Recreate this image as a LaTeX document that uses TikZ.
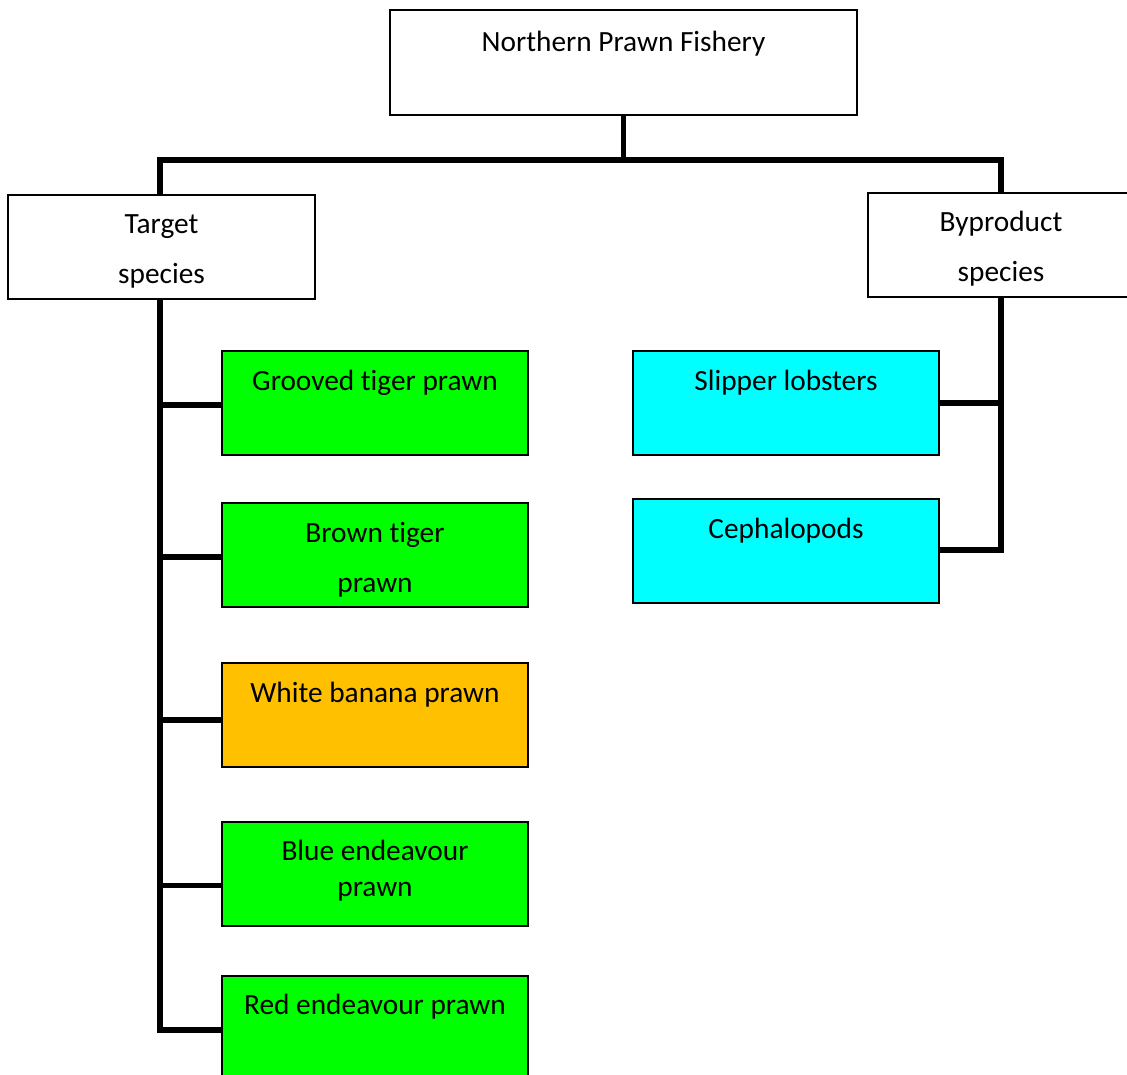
\documentclass[tikz,border=0pt]{standalone}
\usepackage{fontspec}
\setmainfont[RawFeature={-liga;-clig;-calt;-dlig}]{Carlito}
\usetikzlibrary{calc}
\definecolor{prawngreen}{HTML}{00FF00}
\definecolor{bananaorange}{HTML}{FFC000}
\definecolor{bycyan}{HTML}{00FFFF}
\begin{document}
\begin{tikzpicture}[x=0.75pt,y=-0.75pt,
  box/.style={draw=black, line width=1pt, rectangle, inner sep=0pt, outer sep=0pt,
              anchor=north west, minimum width=229.5pt, minimum height=78pt},
  lbl/.style={anchor=base, inner sep=0pt, font=\fontsize{22}{26}\selectfont},
  link/.style={draw=black, line width=3.8pt, line join=miter, line cap=butt}]
\useasboundingbox (0,0) rectangle (1127,1074);
\clip (0,0) rectangle (1127,1074);

% top level
\node[box, minimum width=350.25pt, minimum height=78.75pt] (npf) at (390,10) {};
\node[lbl] (npfT) at ($(npf.north)+(0,42)$) {Northern Prawn Fishery};

% second level
\node[box, minimum width=230.25pt] (tgt) at (8,195) {};
\node[lbl] (tgtA) at ($(tgt.north)+(0,38)$) {Target};
\node[lbl] (tgtB) at ($(tgt.north)+(0,88)$) {species};

\node[box, minimum width=199.5pt] (byp) at (868,193) {};
\coordinate (bypC) at (1001,193);
\node[lbl] (bypA) at ($(bypC)+(0,38)$) {Byproduct};
\node[lbl] (bypB) at ($(bypC)+(0,88)$) {species};

% target species
\node[box, fill=prawngreen] (g1) at (222,351) {};
\node[lbl] (g1T) at ($(g1.north)+(0,39)$) {Grooved tiger prawn};

\node[box, fill=prawngreen] (g2) at (222,503) {};
\node[lbl] (g2A) at ($(g2.north)+(0,39)$) {Brown tiger};
\node[lbl] (g2B) at ($(g2.north)+(0,89)$) {prawn};

\node[box, fill=bananaorange] (g3) at (222,663) {};
\node[lbl] (g3T) at ($(g3.north)+(0,39)$) {White banana prawn};

\node[box, fill=prawngreen] (g4) at (222,822) {};
\node[lbl] (g4A) at ($(g4.north)+(0,38)$) {Blue endeavour};
\node[lbl] (g4B) at ($(g4.north)+(0,74)$) {prawn};

\node[box, fill=prawngreen, minimum height=90pt] (g5) at (222,976) {};
\node[lbl] (g5T) at ($(g5.north)+(0,38)$) {Red endeavour prawn};

% byproduct species
\node[box, fill=bycyan] (c1) at (633,351) {};
\node[lbl] (c1T) at ($(c1.north)+(0,39)$) {Slipper lobsters};

\node[box, fill=bycyan] (c2) at (633,499) {};
\node[lbl] (c2T) at ($(c2.north)+(0,39)$) {Cephalopods};

% connectors
\coordinate (busL) at (160,160);
\coordinate (busR) at (1001,160);
\coordinate (tl) at (160,1030);
\coordinate (tr) at (1001,550);

\draw[link] (npf.south) -- (npf.south |- busL);
\draw[link] (tgt.north -| busL) -- (busL) -- (busR) -- (byp.north -| busR);

\draw[link] (tl |- tgt.south) -- (tl) -- (tl -| g5.west);
\draw[link] ([yshift=-1.5pt]g1.west) -- +(-62,0);
\draw[link] ([yshift=-1.5pt]g2.west) -- +(-62,0);
\draw[link] ([yshift=-3.75pt]g3.west) -- +(-62,0);
\draw[link] ([yshift=-8.6pt]g4.west) -- +(-62,0);

\draw[link] (tr |- byp.south) -- (tr) -- (tr -| c2.east);
\draw[link] (c1.east) -- (c1.east -| tr);
\end{tikzpicture}
\end{document}
